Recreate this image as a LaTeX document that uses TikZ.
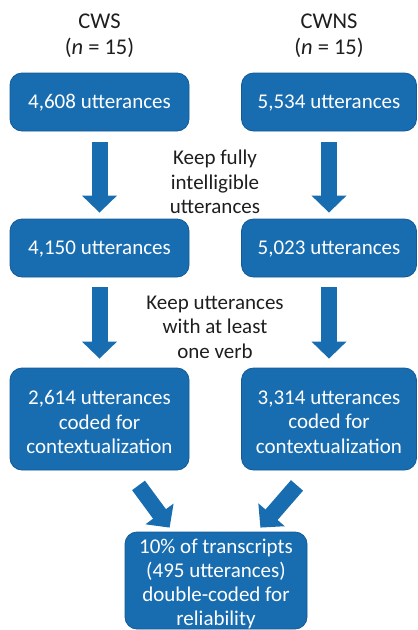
\documentclass[tikz,border=0pt]{standalone}
\usepackage{fontspec}
\setmainfont{Carlito}
\usetikzlibrary{arrows.meta,calc}
\definecolor{boxblue}{RGB}{24,109,177}
\definecolor{boxedge}{RGB}{20,90,150}
\definecolor{inktext}{RGB}{30,30,30}
\newcommand\diafont{\fontsize{21}{24.5}\selectfont}
\newcommand\lastfont{\fontsize{21}{24}\selectfont}
\newcommand\headfont{\fontsize{22.5}{26}\selectfont}
\tikzset{
  box/.style={draw=boxedge, line width=0.8pt, fill=boxblue, rounded corners=12pt,
    inner sep=0pt},
  boxtext/.style={text=white, align=center, inner sep=0pt, font=\diafont},
  steptext/.style={text=inktext, align=center, inner sep=0pt, font=\diafont},
  headtext/.style={text=inktext, align=center, inner sep=0pt, font=\headfont},
  barrow/.style={draw=boxblue, line width=16pt,
    -{Triangle[width=34pt,length=17pt]}}
}
\begin{document}
\begin{tikzpicture}[x=1pt,y=-1pt]
\useasboundingbox (0,0) rectangle (418,630);
% headers
\node[headtext] (hl) at (99.5,36) {CWS\\(\textit{n} = 15)};
\node[headtext] (hr) at (329,36) {CWNS\\(\textit{n} = 15)};
% boxes
\node[box, minimum width=179pt, minimum height=58pt] (a1) at (99.5,102) {};
\node[box, minimum width=175pt, minimum height=58pt] (b1) at (329,102) {};
\node[box, minimum width=179pt, minimum height=58pt] (a2) at (99.5,248) {};
\node[box, minimum width=175pt, minimum height=58pt] (b2) at (329,248) {};
\node[box, minimum width=179pt, minimum height=102pt] (a3) at (99.5,419) {};
\node[box, minimum width=175pt, minimum height=102pt] (b3) at (329,419) {};
\node[box, minimum width=182pt, minimum height=97pt] (c) at (216,580.5) {};
% box texts
\node[boxtext] (a1t) at (99.5,103) {4,608 utterances};
\node[boxtext] (b1t) at (329,103) {5,534 utterances};
\node[boxtext] (a2t) at (99.5,249) {4,150 utterances};
\node[boxtext] (b2t) at (329,249) {5,023 utterances};
\node[boxtext] (a3t) at (99.5,422) {2,614 utterances\\coded for\\contextualization};
\node[boxtext] (b3t) at (329,422) {3,314 utterances\\coded for\\contextualization};
\node[boxtext, font=\lastfont] (ct) at (216,584) {10\% of transcripts\\(495 utterances)\\double-coded for\\reliability};
% step labels
\node[steptext] (k1) at (215,182) {Keep fully\\intelligible\\utterances};
\node[steptext] (k2) at (215,327) {Keep utterances\\with at least\\one verb};
% arrows
\draw[barrow, shorten <=11pt, shorten >=6pt] (a1) -- (a2);
\draw[barrow, shorten <=11pt, shorten >=6pt] (b1) -- (b2);
\draw[barrow, shorten <=10pt, shorten >=9pt] (a2) -- (a3);
\draw[barrow, shorten <=10pt, shorten >=9pt] (b2) -- (b3);
\coordinate (d1s) at ($(a3.south)+(39,15)$);
\coordinate (d1e) at ($(c.north west)+(45,-4)$);
\coordinate (d2s) at ($(b3.south)+(-32,15)$);
\coordinate (d2e) at ($(c.north east)+(-47,-4)$);
\draw[barrow] (d1s) -- (d1e);
\draw[barrow] (d2s) -- (d2e);
\end{tikzpicture}
\end{document}
